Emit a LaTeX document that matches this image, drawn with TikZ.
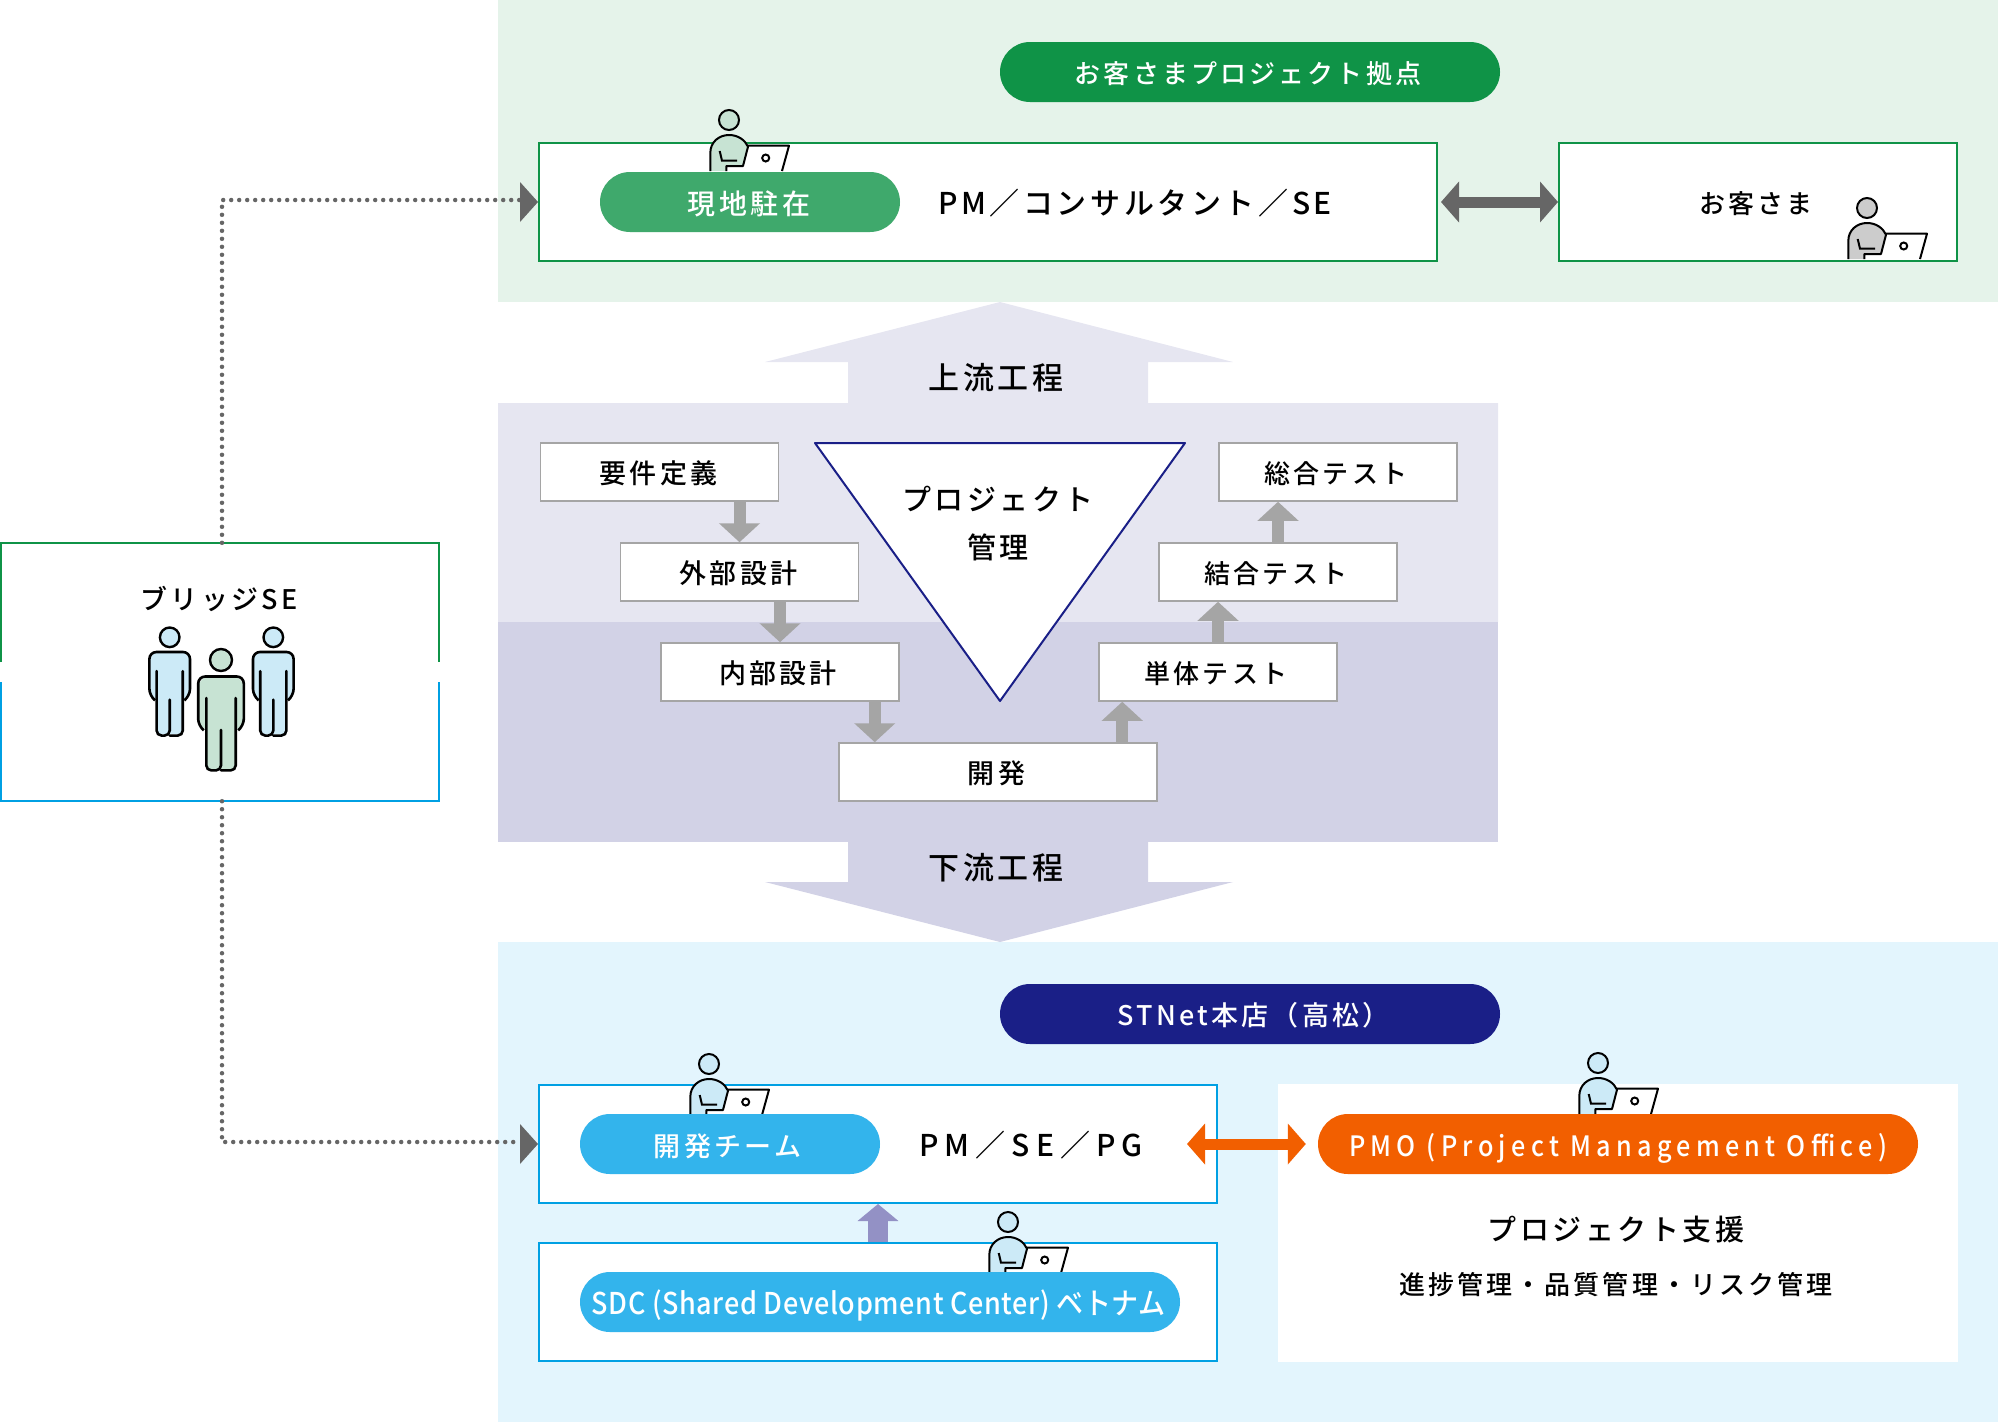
\documentclass[tikz,border=0pt]{standalone}
\usepackage{fontspec}
\usepackage{xcolor}
\usetikzlibrary{arrows.meta}
\setmainfont[LetterSpace=12]{Noto Sans CJK JP Medium}
\newfontfamily\tightfont[LetterSpace=2,FakeStretch=0.9]{Noto Sans CJK JP Medium}
\newfontfamily\wideface[LetterSpace=20]{Noto Sans CJK JP Medium}
\newfontfamily\pmoface[LetterSpace=19,FakeStretch=0.9]{Noto Sans CJK JP Medium}
\newcommand{\fsize}[1]{\fontsize{#1}{#1}\selectfont}
\definecolor{site-bg}{HTML}{E5F3EA}
\definecolor{site-green}{HTML}{0F9347}
\definecolor{pill-green}{HTML}{3FA96C}
\definecolor{up-bg}{HTML}{E6E6F1}
\definecolor{down-bg}{HTML}{D2D2E6}
\definecolor{navy}{HTML}{1A1F87}
\definecolor{hq-bg}{HTML}{E3F5FD}
\definecolor{hq-blue}{HTML}{00A0E3}
\definecolor{pill-blue}{HTML}{33B4EC}
\definecolor{pmo-orange}{HTML}{F25F00}
\definecolor{step-gray}{HTML}{A5A5A5}
\definecolor{dark-gray}{HTML}{666666}
\definecolor{sdc-purple}{HTML}{9391C5}
\definecolor{person-green}{HTML}{C7E3D3}
\definecolor{person-blue}{HTML}{CCEAF7}
\definecolor{person-gray}{HTML}{CCCCCC}
\tikzset{
    site-box/.style = {draw=site-green, fill=white, line width=2pt, rectangle, inner sep=0pt},
    hq-box/.style = {draw=hq-blue, fill=white, line width=2pt, rectangle, inner sep=0pt},
    step-box/.style = {draw=step-gray, fill=white, line width=1.5pt, rectangle, inner sep=0pt, minimum width=238pt, minimum height=58pt, font=\fsize{27}, text height=27pt, text depth=4pt},
    test-box/.style = {step-box, font=\fsize{26}},
    pill/.style = {rectangle, rounded corners=30pt, inner sep=0pt, minimum height=60pt, text=white, text height=27pt, text depth=3pt},
    step-arrow/.style = {draw=step-gray, line width=12pt, -{Triangle[width=40pt,length=19pt]}},
    dot-line/.style = {draw=dark-gray, line width=4.5pt, line cap=round, dash pattern=on 0pt off 8pt},
    pics/desk-person/.style = {code={
        \draw[line width=2pt, fill=#1] (0,0) circle (10pt);
        \fill[white] (19,25.7) -- (60,25.7) -- (53,51.7) -- (14,51.7) -- cycle;
        \draw[line width=2pt, line join=round] (19,25.7) -- (60,25.7) -- (53,51);
        \draw[line width=2pt] (36.7,38) circle (3.5pt);
        \fill[#1] (-18.7,51) -- (-18.7,33) .. controls (-18.7,22) and (-10,15) .. (0,15) .. controls (9,15) and (16,20) .. (19,26.7) -- (14,46) -- (-2.7,46) -- (-2.7,51) -- cycle;
        \draw[line width=2pt, line join=round] (-18.7,51) -- (-18.7,33) .. controls (-18.7,22) and (-10,15) .. (0,15) .. controls (9,15) and (16,20) .. (19,26.7) -- (14,46) -- (-2.7,46) -- (-2.7,51);
        \draw[line width=2pt] (-9.3,31) -- (-7,40.7) -- (8,40.7);
    }},
    pics/stand-person/.style = {code={
        \fill[#1] (-22.8,24) -- (-16,16.5) -- (16,16.5) -- (22.8,24) -- (22.8,64) -- (14.7,70) -- (14.7,109) -- (-14.7,109) -- (-14.7,70) -- (-22.8,64) -- cycle;
        \draw[line width=2.4pt, fill=#1] (0,0) circle (11pt);
        \draw[line width=2.6pt, rounded corners=7pt, line cap=round] (-17.5,70) -- (-22.8,66) -- (-22.8,16.5) -- (22.8,16.5) -- (22.8,66) -- (17.5,70);
        \draw[line width=2.6pt, rounded corners=5pt, line cap=round] (-14.7,38) -- (-14.7,110.4) -- (0,110.4) -- (0,70);
        \draw[line width=2.6pt, rounded corners=5pt, line cap=round] (14.7,38) -- (14.7,110.4) -- (0,110.4);
    }},
}

\begin{document}
\begin{tikzpicture}[x=1pt, y=-1pt]
\useasboundingbox (0,0) rectangle (1998,1422);
\fill[site-bg] (498,0) rectangle (1998,302);
\fill[hq-bg] (498,942) rectangle (1998,1422);
\fill[up-bg] (1000,302) -- (1233,362) -- (1148,362) -- (1148,403) -- (1498,403) -- (1498,622) -- (498,622) -- (498,403) -- (848,403) -- (848,362) -- (765,362) -- cycle;
\fill[down-bg] (498,622) rectangle (1498,842);
\fill[down-bg] (848,842) -- (1148,842) -- (1148,882) -- (1233,882) -- (1000,942) -- (765,882) -- (848,882) -- cycle;
\node[font=\fsize{31}] (upper-label) at (996,378) {上流工程};
\node[font=\fsize{31}] (lower-label) at (996,868) {下流工程};

\node[fill=white, minimum width=438pt, minimum height=258pt, inner sep=0pt] (bridge) at (220,672) {};
\draw[site-green, line width=2pt] (bridge.west |- 0,662) -- (bridge.north west) -- (bridge.north east) -- (bridge.east |- 0,662);
\draw[hq-blue, line width=2pt] (bridge.west |- 0,682) -- (bridge.south west) -- (bridge.south east) -- (bridge.east |- 0,682);
\node[font=\fsize{27}] (bridge-label) at (219,599) {ブリッジSE};
\pic at (169.7,637.3) [scale=0.89] {stand-person=person-blue};
\pic at (273.3,637.3) [scale=0.89] {stand-person=person-blue};
\pic at (221,660) {stand-person=person-green};

\node[pill, fill=site-green, minimum width=500pt, font=\fsize{26}] (site-title) at (1250,72) {\raisebox{1pt}{お客さまプロジェクト拠点}\kern4pt};
\node[site-box, minimum width=898pt, minimum height=118pt] (site-box) at (988,202) {};
\node[site-box, minimum width=398pt, minimum height=118pt] (customer-box) at (1758,202) {};
\pic at (729,120) {desk-person=person-green};
\node[pill, fill=pill-green, minimum width=300pt, font=\fsize{28}] (site-pill) at (750,202) {現地駐在\kern2pt};
\node[font=\fsize{30}] (site-roles) at (1135,203) {PM／コンサルタント／SE};
\node[font=\fsize{26}] (customer-label) at (1756,204) {お客さま};
\pic at (1867,208) {desk-person=person-gray};
\draw[dark-gray, line width=11pt, {Triangle[width=40pt,length=18pt]}-{Triangle[width=40pt,length=18pt]}] ([xshift=3pt]site-box.east) -- (customer-box.west);

\node[step-box] (req) at (659.5,472) {要件定義\kern2pt};
\node[step-box] (ext) at (739.5,572) {外部設計\kern2pt};
\node[step-box] (int) at (780,672) {内部設計\kern4pt};
\node[step-box, minimum width=318pt] (impl) at (998,772) {開発\kern3pt};
\node[test-box] (unit) at (1218,672) {単体テスト\kern4pt};
\node[test-box] (comb) at (1278,572) {結合テスト\kern4pt};
\node[test-box] (total) at (1338,472) {総合テスト\kern4pt};
\draw[step-arrow] (ext.north |- req.south) -- (ext.north);
\draw[step-arrow] (int.north |- ext.south) -- (int.north);
\draw[step-arrow] ([xshift=-25pt]int.south east) -- ([xshift=-25pt]int.south east |- impl.north);
\draw[step-arrow] ([xshift=24pt]unit.south west |- impl.north) -- ([xshift=24pt]unit.south west);
\draw[step-arrow] (unit.north) -- (unit.north |- comb.south);
\draw[step-arrow] (comb.north) -- (comb.north |- total.south);
\draw[navy, fill=white, line width=2pt, line join=round] (815,443) -- (1185,443) -- (1000,701) -- cycle;
\node[font=\fsize{29}] (pm-label) at (998,499) {プロジェクト};
\node[font=\fsize{29}] (pm-label2) at (998,547) {管理};

\node[pill, fill=navy, minimum width=500pt, font=\fsize{27}] (hq-title) at (1250,1014) {\raisebox{1pt}{\hspace{7pt}STNet本店（高松）}};
\node[hq-box, minimum width=678pt, minimum height=118pt] (dev-box) at (878,1144) {};
\node[hq-box, minimum width=678pt, minimum height=118pt] (sdc-box) at (878,1302) {};
\node[fill=white, minimum width=680pt, minimum height=278pt, inner sep=0pt] (pmo-box) at (1618,1223) {};
\pic at (709,1064) {desk-person=person-blue};
\pic at (1008,1222) {desk-person=person-blue};
\pic at (1598,1063) {desk-person=person-blue};
\node[pill, fill=pill-blue, minimum width=300pt, font=\fsize{27}] (dev-pill) at (730,1144) {開発チーム\kern5pt};
\node[font=\wideface\fsize{30}] (dev-roles) at (1031,1145) {PM／SE／PG};
\node[pill, fill=pill-blue, minimum width=600pt] (sdc-pill) at (880,1302) {\tightfont\fsize{30}SDC (Shared Development Center) ベトナム\kern3pt};
\node[pill, fill=pmo-orange, minimum width=600pt, font=\pmoface\fsize{28}] (pmo-pill) at (1618,1144) {PMO (Project Management Office)};
\node[font=\fsize{29}] (pmo-title) at (1616,1230) {プロジェクト支援};
\node[font=\fsize{26}] (pmo-detail) at (1616,1285) {進捗管理・品質管理・リスク管理};
\draw[sdc-purple, line width=20pt, -{Triangle[width=40pt,length=17pt]}] (sdc-box.north) -- (dev-box.south);
\draw[pmo-orange, line width=11pt, {Triangle[width=40pt,length=18pt]}-{Triangle[width=40pt,length=18pt]}] ([xshift=-31pt]dev-box.east) -- ([xshift=28pt]dev-box.east -| pmo-box.west);

\draw[dot-line] ([xshift=2pt]bridge.north) |- ([xshift=-18pt,yshift=2pt]site-box.west);
\draw[dot-line] ([xshift=2pt]bridge.south) |- ([xshift=-18pt,yshift=2pt]dev-box.west);
\draw[dark-gray, line width=0pt, -{Triangle[width=40pt,length=18pt]}] ([xshift=-18pt]site-box.west) -- (site-box.west);
\draw[dark-gray, line width=0pt, -{Triangle[width=40pt,length=18pt]}] ([xshift=-18pt]dev-box.west) -- (dev-box.west);
\end{tikzpicture}
\end{document}
